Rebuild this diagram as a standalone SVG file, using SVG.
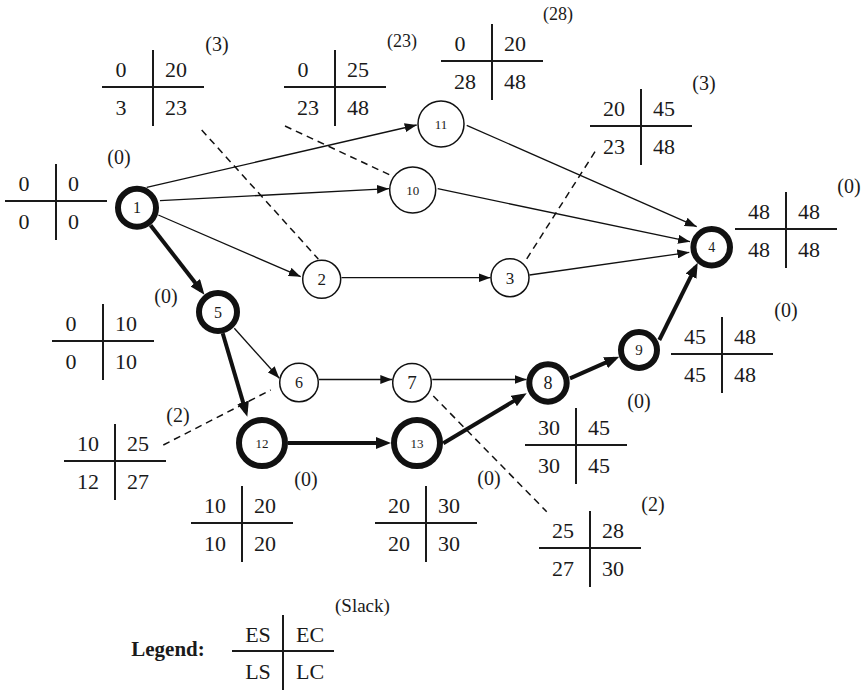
<svg xmlns="http://www.w3.org/2000/svg" width="865" height="690" viewBox="0 0 865 690">
<style>
text{font-family:"Liberation Serif","Times New Roman",serif;fill:#1a1a1a}
.num{font-size:22px}
.mid{text-anchor:middle}
.slack{font-size:20px;text-anchor:middle}
.s18{font-size:18px}
.box line{stroke:#1a1a1a;stroke-width:2}
.node circle{fill:#fff;stroke:#111}
.thin circle{stroke-width:1.5}
.thick circle{stroke-width:6}
.lbl{text-anchor:middle}
.e{stroke:#111;stroke-width:1.3;fill:none;marker-end:url(#ah)}
.et{stroke:#111;stroke-width:4;fill:none;marker-end:url(#ahT)}
.d{stroke:#111;stroke-width:1.5;stroke-dasharray:7 5;fill:none}
</style>
<defs>
<marker id="ah" markerUnits="userSpaceOnUse" markerWidth="12" markerHeight="9" refX="12" refY="4.5" orient="auto"><path d="M0,0 L12,4.5 L0,9 z" fill="#111"/></marker>
<marker id="ahT" markerUnits="userSpaceOnUse" markerWidth="15" markerHeight="12" refX="10" refY="6" orient="auto"><path d="M0,0 L15,6 L0,12 z" fill="#111"/></marker>
</defs>
<rect width="865" height="690" fill="#fff"/>
<g id="connectors">
<line class="e" x1="146.7" y1="187.3" x2="416.7" y2="125"/>
<line class="e" x1="160" y1="200.7" x2="389" y2="188.7"/>
<line class="e" x1="158.3" y1="215" x2="300.7" y2="276.7"/>
<line class="e" x1="341.5" y1="277.7" x2="490.5" y2="277.7"/>
<line class="e" x1="529.5" y1="275" x2="689.3" y2="252.3"/>
<line class="e" x1="437.7" y1="188.7" x2="690" y2="241.7"/>
<line class="e" x1="466.7" y1="125.3" x2="696.7" y2="226.7"/>
<line class="e" x1="234.3" y1="328.3" x2="279.3" y2="378.3"/>
<line class="e" x1="319" y1="379.5" x2="392.3" y2="379.5"/>
<line class="e" x1="432.3" y1="379.5" x2="526.5" y2="379.5"/>
<line class="et" x1="150.5" y1="225.2" x2="201.4" y2="290.7"/>
<line class="et" x1="222.7" y1="333.3" x2="245.9" y2="411.9"/>
<line class="et" x1="288" y1="443" x2="386" y2="443"/>
<line class="et" x1="443.3" y1="443.3" x2="522.4" y2="395.9"/>
<line class="et" x1="570" y1="378.3" x2="614.7" y2="358.7"/>
<line class="et" x1="659.3" y1="340" x2="695.5" y2="267.2"/>
<line class="d" x1="201.7" y1="130" x2="318.3" y2="259"/>
<line class="d" x1="285" y1="126" x2="390" y2="175"/>
<line class="d" x1="595" y1="151.7" x2="526" y2="260"/>
<line class="d" x1="163.3" y1="445" x2="270.7" y2="390"/>
<line class="d" x1="433.3" y1="396" x2="546.7" y2="511.7"/>
</g>
<g id="node-1" class="node thick"><circle cx="137" cy="207.8" r="19"/><text class="lbl" x="137" y="213" font-size="16">1</text></g>
<g id="node-5" class="node thick"><circle cx="218" cy="312" r="19"/><text class="lbl" x="218" y="317.5" font-size="16">5</text></g>
<g id="node-12" class="node thick"><circle cx="262" cy="443" r="23"/><text class="lbl" x="262" y="447.5" font-size="13">12</text></g>
<g id="node-13" class="node thick"><circle cx="417" cy="443" r="23"/><text class="lbl" x="417" y="447.5" font-size="13">13</text></g>
<g id="node-8" class="node thick"><circle cx="548" cy="383" r="18.7"/><text class="lbl" x="548" y="389.3" font-size="18">8</text></g>
<g id="node-9" class="node thick"><circle cx="639" cy="350" r="18"/><text class="lbl" x="639" y="355" font-size="15">9</text></g>
<g id="node-4" class="node thick"><circle cx="711.7" cy="247.3" r="18.3"/><text class="lbl" x="711.7" y="252" font-size="14">4</text></g>
<g id="node-11" class="node thin"><circle cx="441" cy="124" r="23"/><text class="lbl" x="441" y="128.5" font-size="13">11</text></g>
<g id="node-10" class="node thin"><circle cx="412.7" cy="190" r="23"/><text class="lbl" x="412.7" y="194.5" font-size="13">10</text></g>
<g id="node-2" class="node thin"><circle cx="321.7" cy="279.3" r="19"/><text class="lbl" x="321.7" y="285" font-size="17">2</text></g>
<g id="node-3" class="node thin"><circle cx="510" cy="277.7" r="19"/><text class="lbl" x="510" y="283.5" font-size="17">3</text></g>
<g id="node-6" class="node thin"><circle cx="299" cy="382.5" r="19.3"/><text class="lbl" x="299" y="388" font-size="16">6</text></g>
<g id="node-7" class="node thin"><circle cx="412" cy="382.7" r="19.3"/><text class="lbl" x="412" y="389" font-size="19">7</text></g>
<g id="box-2" class="box"><line x1="102" y1="87" x2="204" y2="87"/><line x1="153" y1="50" x2="153" y2="126"/>
<text class="num mid" x="121" y="77">0</text><text class="num" x="165" y="77">20</text><text class="num mid" x="121" y="115">3</text><text class="num" x="165" y="115">23</text><text class="slack" x="217" y="50.5">(3)</text></g>
<g id="box-10" class="box"><line x1="284" y1="87" x2="386" y2="87"/><line x1="335" y1="50" x2="335" y2="126"/>
<text class="num mid" x="303" y="77">0</text><text class="num" x="347" y="77">25</text><text class="num mid" x="308" y="115">23</text><text class="num" x="347" y="115">48</text><text class="slack s18" x="402" y="47">(23)</text></g>
<g id="box-11" class="box"><line x1="441" y1="61" x2="543" y2="61"/><line x1="492" y1="24" x2="492" y2="100"/>
<text class="num mid" x="460" y="51">0</text><text class="num" x="504" y="51">20</text><text class="num mid" x="465" y="89">28</text><text class="num" x="504" y="89">48</text><text class="slack s18" x="558" y="20">(28)</text></g>
<g id="box-3" class="box"><line x1="590" y1="126" x2="692" y2="126"/><line x1="641" y1="89" x2="641" y2="165"/>
<text class="num mid" x="614" y="116">20</text><text class="num" x="653" y="116">45</text><text class="num mid" x="614" y="154">23</text><text class="num" x="653" y="154">48</text><text class="slack" x="704" y="90">(3)</text></g>
<g id="box-4" class="box"><line x1="735" y1="229" x2="837" y2="229"/><line x1="786" y1="192" x2="786" y2="268"/>
<text class="num mid" x="759" y="219">48</text><text class="num" x="798" y="219">48</text><text class="num mid" x="759" y="257">48</text><text class="num" x="798" y="257">48</text><text class="slack" x="849" y="193">(0)</text></g>
<g id="box-1" class="box"><line x1="5" y1="201" x2="107" y2="201"/><line x1="56" y1="164" x2="56" y2="240"/>
<text class="num mid" x="24" y="191">0</text><text class="num" x="68" y="191">0</text><text class="num mid" x="24" y="229">0</text><text class="num" x="68" y="229">0</text><text class="slack" x="119" y="164">(0)</text></g>
<g id="box-5" class="box"><line x1="52" y1="341" x2="154" y2="341"/><line x1="103" y1="304" x2="103" y2="380"/>
<text class="num mid" x="71" y="331">0</text><text class="num" x="115" y="331">10</text><text class="num mid" x="71" y="369">0</text><text class="num" x="115" y="369">10</text><text class="slack" x="166" y="303">(0)</text></g>
<g id="box-6" class="box"><line x1="64" y1="461" x2="166" y2="461"/><line x1="115" y1="424" x2="115" y2="500"/>
<text class="num mid" x="88" y="451">10</text><text class="num" x="127" y="451">25</text><text class="num mid" x="88" y="489">12</text><text class="num" x="127" y="489">27</text><text class="slack" x="178" y="422">(2)</text></g>
<g id="box-12" class="box"><line x1="191" y1="523" x2="293" y2="523"/><line x1="242" y1="486" x2="242" y2="562"/>
<text class="num mid" x="215" y="513">10</text><text class="num" x="254" y="513">20</text><text class="num mid" x="215" y="551">10</text><text class="num" x="254" y="551">20</text><text class="slack" x="306" y="486">(0)</text></g>
<g id="box-13" class="box"><line x1="375" y1="523" x2="477" y2="523"/><line x1="426" y1="486" x2="426" y2="562"/>
<text class="num mid" x="399" y="513">20</text><text class="num" x="438" y="513">30</text><text class="num mid" x="399" y="551">20</text><text class="num" x="438" y="551">30</text><text class="slack" x="489" y="485">(0)</text></g>
<g id="box-8" class="box"><line x1="525" y1="445" x2="627" y2="445"/><line x1="576" y1="408" x2="576" y2="484"/>
<text class="num mid" x="549" y="435">30</text><text class="num" x="588" y="435">45</text><text class="num mid" x="549" y="473">30</text><text class="num" x="588" y="473">45</text><text class="slack" x="639" y="407.5">(0)</text></g>
<g id="box-9" class="box"><line x1="671" y1="354" x2="773" y2="354"/><line x1="722" y1="317" x2="722" y2="393"/>
<text class="num mid" x="695" y="344">45</text><text class="num" x="734" y="344">48</text><text class="num mid" x="695" y="382">45</text><text class="num" x="734" y="382">48</text><text class="slack" x="786" y="317">(0)</text></g>
<g id="box-7" class="box"><line x1="539" y1="548" x2="641" y2="548"/><line x1="590" y1="511" x2="590" y2="587"/>
<text class="num mid" x="563" y="538">25</text><text class="num" x="602" y="538">28</text><text class="num mid" x="563" y="576">27</text><text class="num" x="602" y="576">30</text><text class="slack" x="653" y="510.5">(2)</text></g>
<g id="legend" class="box"><line x1="232" y1="651" x2="334" y2="651"/><line x1="283" y1="615" x2="283" y2="690"/>
<text class="num mid" x="258" y="642">ES</text><text class="num" x="296" y="642">EC</text><text class="num mid" x="258" y="679">LS</text><text class="num" x="296" y="679">LC</text>
<text x="335" y="612" font-size="19">(Slack)</text><text class="mid" x="168" y="656" font-size="21" font-weight="bold">Legend:</text></g>
</svg>
